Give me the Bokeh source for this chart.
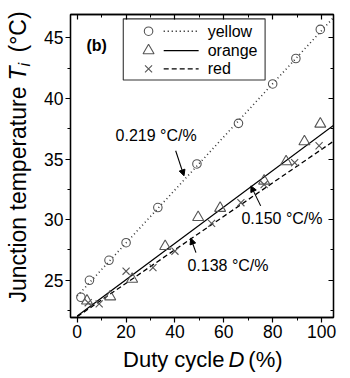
import math
from bokeh.plotting import figure
from bokeh.layouts import row, column
from bokeh.models import (Range1d, LinearAxis, Label, Arrow, NormalHead,
                          SingleIntervalTicker)
from bokeh.core.properties import value
from bokeh.embed import file_html
from bokeh.resources import INLINE

# ---- data ----
series_names = ["yellow", "orange", "red"]
duty_yellow = [1.5, 5, 13, 20, 33, 49, 66, 80, 89.5, 99.5]
temp_yellow = [23.6, 25.0, 26.65, 28.1, 31.0, 34.6, 37.95, 41.2, 43.3, 45.7]
duty_orange = [4, 13.5, 22.5, 36, 49.5, 58.5, 76.5, 85.5, 93, 99.5]
temp_orange = [23.3, 23.65, 25.1, 27.8, 30.2, 30.95, 33.2, 34.8, 36.45, 37.9]
duty_red = [4.5, 9, 20, 31, 40, 55, 67, 76.5, 89, 99]
temp_red = [23.15, 23.05, 25.75, 26.05, 27.4, 29.7, 31.4, 32.9, 34.7, 36.1]
fit_slopes = [0.219, 0.150, 0.138]
fit_intercepts = [23.7, 22.05, 22.0]
slope_labels = ["0.219 °C/%", "0.150 °C/%", "0.138 °C/%"]
x_title = ["Duty cycle", "D", "(%)"]
y_title = ["Junction temperature", "T", "i", "(°C)"]

FONT = "Liberation Sans"
GRAY = "#555555"
YT_W = 40

p = figure(width=350 - YT_W, height=345, output_backend="svg", toolbar_location=None,
           x_range=Range1d(-2.75, 104.9), y_range=Range1d(21.93, 46.93),
           min_border_left=70 - YT_W, min_border_right=17, min_border_top=14,
           min_border_bottom=28, x_axis_location=None, y_axis_location=None)
p.xgrid.visible = False
p.ygrid.visible = False
p.outline_line_color = "black"
p.outline_line_width = 1.3
p.background_fill_color = "white"
p.border_fill_color = "white"


def style_axis(ax, labels):
    ax.axis_line_color = "black"
    ax.axis_line_width = 1.3
    ax.major_tick_line_color = "black"
    ax.minor_tick_line_color = "black"
    ax.major_tick_line_width = 1.2
    ax.minor_tick_line_width = 1.0
    if labels:
        ax.major_tick_out = 5
        ax.major_tick_in = 0
        ax.minor_tick_out = 3
        ax.minor_tick_in = 0
        ax.major_label_text_font = FONT
        ax.major_label_text_font_size = "17.5px"
        ax.major_label_text_color = "black"
        ax.major_label_standoff = 2
    else:
        ax.major_tick_out = 0
        ax.major_tick_in = 5
        ax.minor_tick_out = 0
        ax.minor_tick_in = 3
        ax.major_label_text_color = None
        ax.major_label_text_font_size = "1px"
        ax.major_label_standoff = 0


for loc in ["below", "above"]:
    ax = LinearAxis(ticker=SingleIntervalTicker(interval=20, num_minor_ticks=2))
    style_axis(ax, loc == "below")
    p.add_layout(ax, loc)
for loc in ["left", "right"]:
    ax = LinearAxis(ticker=SingleIntervalTicker(interval=5, num_minor_ticks=2))
    style_axis(ax, loc == "left")
    p.add_layout(ax, loc)

# ---- fit lines ----
dashes = ["1 3", "solid", "5 3"]
for s, b, d in zip(fit_slopes, fit_intercepts, dashes):
    xs = [0, 105]
    p.line(xs, [b + s * x for x in xs], line_color="black",
           line_width=1.3 if d != "1 3" else 1.6, line_dash=d,
           line_alpha=1.0 if d != "1 3" else 0.8)

# ---- markers ----
p.scatter(duty_yellow, temp_yellow, marker="circle", size=8.5,
          fill_color=None, line_color=GRAY, line_width=1.1)
p.scatter(duty_orange, temp_orange, marker="triangle", size=11,
          fill_color=None, line_color=GRAY, line_width=1.1)
p.scatter(duty_red, temp_red, marker="x", size=10,
          line_color=GRAY, line_width=1.1)

# ---- legend (drawn manually) ----
p.quad(left=[18.85], right=[76.9], bottom=[41.53], top=[46.57],
       fill_color="white", line_color="#333333", line_width=1.1)
leg_y = [45.55, 43.95, 42.44]
leg_markers = ["circle", "triangle", "x"]
leg_sizes = [8.5, 11, 10]
for name, yy, mk, sz, d in zip(series_names, leg_y, leg_markers, leg_sizes, dashes):
    p.scatter([29.2], [yy], marker=mk, size=sz, fill_color=None,
              line_color=GRAY, line_width=1.1)
    p.line([35.4, 49.7], [yy, yy], line_color="black", line_dash=d,
           line_width=1.3 if d != "1 3" else 1.6)
    p.add_layout(Label(x=53.4, y=yy, text=name, text_font=FONT,
                       text_font_size="16px", text_baseline="middle",
                       text_align="left", text_color="black"))

# ---- panel tag ----
p.add_layout(Label(x=3.8, y=44.36, text="(b)", text_font=FONT,
                   text_font_size="16px", text_font_style="bold",
                   text_baseline="middle", text_color="black"))

# ---- slope annotations with arrows ----
lab_pos = [(15.7, 36.93), (67.2, 30.07), (45.1, 26.18)]
arrows = [((40.3, 35.69), (43.7, 33.62)),
          ((75.1, 31.14), (71.1, 32.79)),
          ((48.6, 27.28), (46.5, 28.47))]
for txt, (lx, ly), ((x0, y0), (x1, y1)) in zip(slope_labels, lab_pos, arrows):
    p.add_layout(Label(x=lx, y=ly, text=txt, text_font=FONT,
                       text_font_size="16px", text_baseline="middle",
                       text_align="left", text_color="black"))
    p.add_layout(Arrow(x_start=x0, y_start=y0, x_end=x1, y_end=y1,
                       line_color="black", line_width=1.1,
                       end=NormalHead(size=6, fill_color="black",
                                      line_color="black")))


def blank_fig(w, h, xr, yr):
    f = figure(width=w, height=h, output_backend="svg", toolbar_location=None,
               x_range=Range1d(*xr), y_range=Range1d(*yr),
               min_border=0, min_border_left=0, min_border_right=0,
               min_border_top=0, min_border_bottom=0,
               x_axis_location=None, y_axis_location=None)
    f.xgrid.visible = False
    f.ygrid.visible = False
    f.outline_line_color = None
    f.background_fill_color = "white"
    f.border_fill_color = "white"
    return f


# ---- x-axis title (own strip under the plot; canvas-pixel-like coordinates) ----
xt = blank_fig(350 - YT_W, 33, (YT_W, 350), (0, 33))
xt_pos = [221.5, 235.5, 249.6]
xt_align = ["right", "center", "left"]
xt_style = ["normal", "italic", "normal"]
for t, xx, al, st in zip(x_title, xt_pos, xt_align, xt_style):
    xt.text(x=[xx], y=[18.6], text=[t], text_font=value(FONT),
            text_font_size=value("22px"), text_font_style=st,
            text_baseline="middle", text_align=al, text_color="black")

# ---- y-axis title (own strip left of the plot) ----
yt = blank_fig(YT_W, 378, (0, YT_W), (0, 378))
ang = math.pi / 2
yt_x = [17.5, 17.5, 24, 17.5]
yt_y = [292, 298, 312, 326]
yt_align = ["right", "left", "left", "left"]
yt_size = ["23px", "23px", "16px", "23px"]
yt_style = ["normal", "italic", "italic", "normal"]
for t, xx, yy, al, fs, st in zip(y_title, yt_x, yt_y, yt_align, yt_size, yt_style):
    yt.text(x=[xx], y=[yy], text=[t], angle=ang, text_font=value(FONT),
            text_font_size=value(fs), text_font_style=st,
            text_baseline="middle", text_align=al, text_color="black")

layout = row(yt, column(p, xt, spacing=0), spacing=0)
open("out.html", "w").write(file_html(layout, INLINE))
